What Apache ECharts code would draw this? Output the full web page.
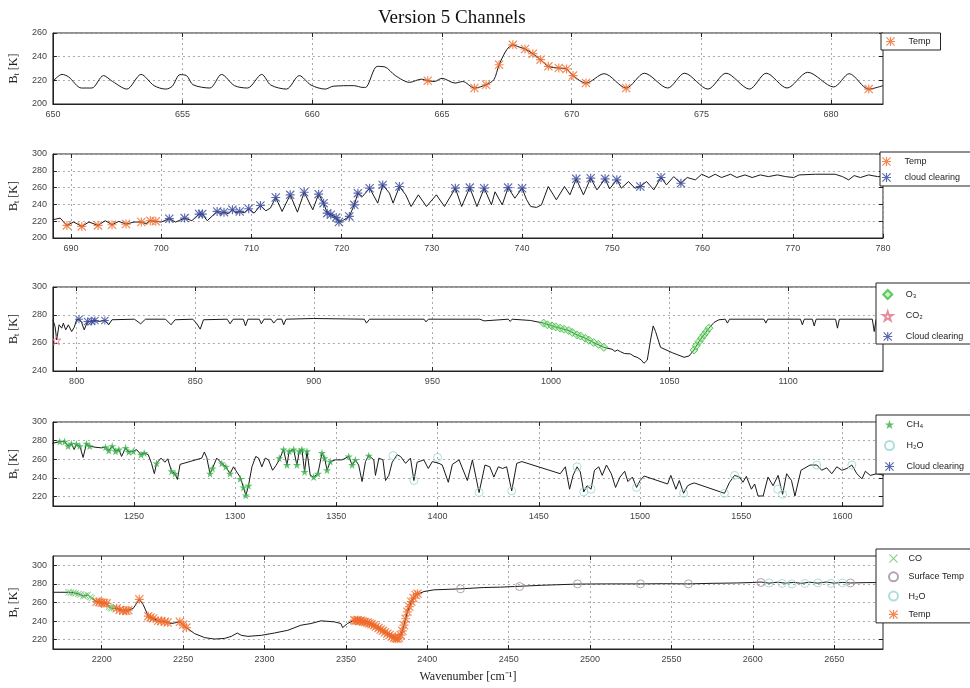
<!DOCTYPE html>
<html>
<head>
<meta charset="utf-8">
<title>Version 5 Channels</title>
<script src="https://cdn.jsdelivr.net/npm/echarts@6/dist/echarts.min.js"></script>
<style>html,body{margin:0;padding:0;background:#fff;}</style>
</head>
<body>
<div id="main" style="width:970px;height:688px;"></div>
<script type="text/javascript">
// ---- data: [wavenumber, Bt] ----
// panel 1 (650-682)
var p1Line = [[650.0,219.2],[650.35,225],[650.6,223],[651.1,213.5],[651.5,213.5],[651.95,224],[652.3,219],[652.85,212.6],[653.4,225],[653.9,215.5],[654.35,212.6],[654.6,215],[654.9,224.8],[655.15,224],[655.4,216.3],[656.05,213.5],[656.5,225],[657.0,215.5],[657.5,213.5],[658.05,225],[658.4,216],[659.0,212.6],[659.5,224],[659.95,216],[660.5,212.6],[660.8,215],[661.6,215.5],[661.95,214],[662.05,214],[662.5,231.8],[662.8,231.3],[663.2,224],[663.75,218.3],[664.2,221],[664.45,219.7],[664.7,219],[665.0,221.7],[665.5,217.7],[665.8,219],[666.25,213.5],[666.7,216.3],[667.0,220.6],[667.2,233.2],[667.5,246],[667.73,250],[667.9,248.7],[668.2,246.5],[668.5,242.5],[668.8,237.5],[669.1,231.8],[669.5,230.4],[669.8,229.6],[670.05,224],[670.55,217.7],[671.25,225.6],[672.1,213.5],[672.8,226],[673.7,213.5],[674.35,226],[675.25,212.6],[675.95,226],[676.85,212.6],[677.5,226],[678.3,213.5],[679.1,226.8],[680.1,214.4],[680.7,225.6],[681.45,212.6],[682.0,215.5]];
var p1Temp = [[664.45,219.7],[666.25,213.5],[666.7,216.3],[667.2,233.2],[667.73,250],[668.2,246.5],[668.5,242.5],[668.8,237.5],[669.1,231.8],[669.5,230.4],[669.8,229.6],[670.05,224],[670.55,217.7],[672.1,213.5],[681.45,212.6]];

// panel 2 (688-780)
var p2Line = [[688.0,221.7],[688.8,223.7],[689.55,215],[690.3,219],[691.2,213.8],[692.0,219],[693.0,215],[693.8,220.6],[694.55,215.8],[695.3,219.8],[696.1,216.6],[697.0,219],[697.8,219],[698.3,217],[698.8,220.6],[699.4,219.8],[700.0,219],[700.9,223],[701.6,219],[702.6,223.7],[703.4,220.6],[704.2,228.5],[704.55,228.5],[705.1,220.6],[706.2,231.6],[706.6,229],[706.96,230.8],[707.4,229],[707.9,233.6],[708.3,230],[708.7,231.6],[709.2,230],[709.7,234.8],[710.3,229.6],[711.0,238.7],[711.6,232.4],[712.1,235.6],[712.7,248.2],[713.4,231.6],[714.3,251.4],[715.1,230.8],[715.85,254.5],[716.8,233.6],[717.45,252.2],[718.0,241.5],[718.4,229.6],[718.8,227.7],[719.4,224.5],[719.7,219],[720.1,220.6],[720.85,225.7],[721.4,239.5],[721.8,253.4],[722.3,249.4],[723.1,259.3],[724.0,241.5],[724.55,263.2],[725.3,253.4],[725.7,241.5],[726.4,261.3],[727.1,251.4],[727.7,237.5],[728.5,251.4],[729.4,237.5],[730.5,251.4],[731.4,237.5],[732.6,259.3],[733.3,237.5],[734.2,260],[735.0,237.5],[735.8,259.3],[736.6,239.5],[737.0,255],[737.8,239.5],[738.45,260],[739.2,247.4],[740.0,259.3],[740.5,245.5],[740.96,237.5],[741.6,236.4],[742.15,239.5],[742.9,261.3],[743.8,245.5],[744.7,261.3],[745.3,251.4],[746.0,270.4],[746.8,251.4],[747.6,271.2],[748.3,257.3],[749.2,270.4],[749.7,258.5],[750.5,269.2],[751.0,259.3],[751.8,267.2],[752.5,259.3],[753.1,261.3],[753.8,267.2],[754.6,257.3],[755.4,272],[756.0,263.2],[756.8,273.1],[757.6,265.2],[758.3,272],[759.2,269.2],[759.9,275.9],[760.7,272],[761.4,275.9],[762.1,272],[763.1,275.9],[763.8,272],[764.7,275.1],[765.5,272],[766.4,275.1],[767.3,273.1],[768.3,275.1],[769.2,273.1],[770.1,272],[770.7,275.1],[772.5,275.9],[774.7,275.9],[775.5,273.1],[776.2,269.2],[776.8,274.3],[777.5,272],[778.4,275.1],[779.4,273.1],[780,273.1]];
var p2Temp = [[689.55,215],[691.2,213.8],[693.0,215],[694.55,215.8],[696.1,216.6],[697.8,219],[698.8,220.6],[699.4,219.8]];
var p2Cloud = [[700.9,223],[702.6,223.7],[704.2,228.5],[704.55,228.5],[706.2,231.6],[706.96,230.8],[707.9,233.6],[708.7,231.6],[709.7,234.8],[711.0,238.7],[712.7,248.2],[714.3,251.4],[715.85,254.5],[717.45,252.2],[718.0,241.5],[718.4,229.6],[718.8,227.7],[719.4,224.5],[719.7,219],[720.85,225.7],[721.4,239.5],[721.8,253.4],[723.1,259.3],[724.55,263.2],[726.4,261.3],[732.6,259.3],[734.2,260],[735.8,259.3],[738.45,260],[740.0,259.3],[746.0,270.4],[747.6,271.2],[749.2,270.4],[750.5,269.2],[753.1,261.3],[755.4,272],[757.6,265.2]];

// panel 3 (790-1140)
var p3Line = [[790,276.6],[790.9,271.8],[791.6,262.2],[792.6,273],[793.7,270.6],[794.4,274.2],[795.4,269.4],[796.5,273],[797.9,268.2],[799.0,271.3],[800.0,276.6],[801,277],[802.1,274.6],[803.2,269.4],[804.6,275.4],[806.3,275.4],[807.7,276.1],[809.4,275.4],[811.9,276.1],[813.5,273],[814.9,276.6],[824.4,277],[827,273.7],[829,277],[837.5,277],[839.8,273],[841.5,276.6],[849,277],[850.7,273.7],[852.1,269.9],[853.5,276.6],[863.5,277],[864.7,273.7],[866,277],[870.3,277],[871.2,272.2],[872.2,277],[877,277],[877.9,273.7],[879,277],[882,277],[883.1,274.2],[884.5,277],[886.5,277],[887.3,273],[888.3,277],[900,277.5],[921.3,277],[922.2,274.2],[923.5,277],[946.5,277],[947.3,275.1],[948.3,277],[970,277],[971.8,275.8],[972.5,277],[982,277],[982.8,275.4],[983.6,277],[991.3,276.1],[996.9,274.2],[1000.4,272.2],[1003.9,270.6],[1007.5,268.9],[1011,265.8],[1014.5,263.4],[1018,260.3],[1022.3,256.9],[1025.8,255.5],[1027,254],[1028,255],[1029.3,253.8],[1031,252.5],[1033.5,252.2],[1035,250.5],[1036.3,249.8],[1038,248],[1039.2,245.5],[1040.6,247.8],[1042,262.2],[1043.1,272.2],[1044.1,268.2],[1046.2,256.9],[1051.1,253.1],[1056.1,249.8],[1058.2,250.7],[1060.3,255],[1062.4,261],[1064.5,265.8],[1066.6,270.6],[1068.7,274.6],[1070.8,276.6],[1073.5,277],[1074.4,274.2],[1075.3,277],[1089.8,277],[1090.6,274.2],[1091.4,277],[1105.2,277],[1106,273],[1106.8,277],[1110.2,277],[1111,272.2],[1111.8,277],[1120,277],[1120.8,270.6],[1121.6,277],[1135.5,277],[1136.3,268.2],[1137.1,277],[1140,277]];
var p3O3 = [[996.9,274.2],[998.5,273],[1000.4,272.2],[1002,271.5],[1003.9,270.6],[1005.5,269.8],[1007.5,268.9],[1009,267.5],[1011,265.8],[1012.5,265],[1014.5,263.4],[1016,262],[1018,260.3],[1020,259],[1022.3,256.9],[1060.3,255],[1061.3,258],[1062.4,261],[1063.5,263.5],[1064.5,265.8],[1065.5,268],[1066.6,270.6]];
var p3CO2 = [[791.5,262]];
var p3Cloud = [[801,277],[804.6,275.4],[806.3,275.4],[807.7,276.1],[811.9,276.1]];

// panel 4 (1210-1620)
var p4Line = [[1209.7,277.1],[1213.4,279],[1215.8,279],[1217.5,274.2],[1219.1,276.8],[1220.5,270.5],[1221.6,276],[1223.3,274.2],[1224.9,262],[1226.6,276.8],[1228.2,274.2],[1230.7,273],[1234,272.3],[1236,273],[1237.6,269.4],[1239.3,274.2],[1240.9,268.6],[1242.6,270.5],[1243.9,263.1],[1245.9,272.3],[1247.5,267.9],[1249.7,268.6],[1251.3,270.5],[1253.5,265],[1255.1,266.8],[1257.1,265],[1258.7,255.7],[1260.1,244.6],[1261.2,255.7],[1263.4,261.3],[1265.3,256.9],[1266.7,260.6],[1268.6,247.2],[1270.3,244.6],[1271.5,238.4],[1272.8,254.6],[1283.5,261.3],[1284.8,267.9],[1286,261.7],[1287.6,244.6],[1288.8,250.2],[1290.9,261.3],[1293.4,255.7],[1295.4,252],[1297.5,244.6],[1299.2,252],[1300.8,246.5],[1302.5,241],[1304.1,229.9],[1305.3,221.4],[1306.6,231.7],[1308.3,252],[1310.2,263.1],[1311.6,261.3],[1313.2,252],[1314.9,261.3],[1316.5,259.4],[1318.5,248.3],[1320.1,253.1],[1321.8,259.4],[1323.9,270.5],[1325.6,253.9],[1326.7,268.6],[1328.9,270.5],[1330.5,253.9],[1331.7,268.6],[1333,270.5],[1334.3,246.5],[1335.5,268.6],[1337.1,242.8],[1338.8,241],[1340.9,244.6],[1342.9,266.8],[1344.2,261.3],[1345.4,248.3],[1347,257.6],[1349.5,259.4],[1352.8,259.4],[1356.1,263.1],[1357.8,253.9],[1359.4,259.4],[1361,253.9],[1362.7,236.2],[1364.4,257.6],[1366,264.2],[1368.5,259.4],[1369.3,242.8],[1371,261.3],[1373,259.4],[1374.3,237.3],[1375.9,242.8],[1377.6,256.9],[1380,264.9],[1381.7,263.1],[1384.2,255.7],[1386.6,261.3],[1388.3,237.3],[1389.9,256.9],[1393.2,259.4],[1395.4,250.2],[1397.4,257.6],[1400.7,255.7],[1402.3,253.9],[1405.3,235.4],[1407.3,254.6],[1410.6,259.4],[1414.7,237.3],[1417.2,259.4],[1420.5,224.4],[1423.4,253.9],[1425.8,252],[1427.8,241],[1430,252],[1432.1,250.2],[1434.1,252],[1436.6,226.2],[1439.1,255.7],[1441.6,257.6],[1460.6,244.6],[1463.1,252],[1465.2,228],[1466.9,242.8],[1468.9,252],[1470.5,246.5],[1472.2,225.1],[1473.8,231.7],[1475.8,228],[1477.5,248.3],[1479.6,252],[1481.3,242.8],[1483.4,253.9],[1485.8,244.6],[1487.9,229.9],[1490.1,241],[1492.4,247.2],[1494,236.2],[1496.2,241],[1498.3,229.9],[1500,237.3],[1502,242.1],[1513.6,233.6],[1515.2,242.8],[1517.7,228],[1519.4,237.3],[1521.5,223.6],[1523.5,231.7],[1525.2,233.6],[1526.8,234.7],[1541.7,223.6],[1544.2,235.4],[1546.7,242.8],[1549.2,241],[1550.8,235.4],[1552.5,241.7],[1555,228],[1556.6,233.6],[1558.3,220.7],[1560.8,220.7],[1563.2,241],[1565.7,231.7],[1568.2,242.8],[1570.4,222.5],[1572.4,244.6],[1574.8,237.3],[1576.5,220.7],[1579.5,248.3],[1584,253.9],[1587.3,253.9],[1589.7,248.3],[1592.2,250.9],[1594.7,244.6],[1597.2,252],[1599.7,248.3],[1602.2,250.2],[1604.6,253.9],[1607.1,244.6],[1609.6,239.1],[1611.3,247.2],[1613.7,242.8],[1617,244.6],[1620.5,242.8]];
var p4CH4 = [[1213.4,279],[1215.8,279],[1217.5,274.2],[1219.1,276.8],[1221.6,276.4],[1223.3,274.2],[1226.6,276.8],[1228.2,274.2],[1236,273],[1237.6,269.4],[1239.3,274.2],[1240.9,268.6],[1242.6,270.5],[1245.9,272.3],[1247.5,267.9],[1249.7,268.6],[1253.5,265],[1255.1,266.8],[1261.2,255.7],[1268.6,247.2],[1270.3,244.6],[1287.6,244.6],[1288.8,250.2],[1293.4,255.7],[1295.4,252],[1297.5,244.6],[1302.5,239.1],[1304.1,229.9],[1305.3,221.4],[1306.6,231.7],[1321.8,261.3],[1323.9,270.5],[1325.6,254],[1326.7,268.6],[1328.9,270.5],[1330.5,254],[1331.7,268.6],[1333,270.5],[1334.3,246.5],[1335.5,268.6],[1338.8,241],[1340.9,244.6],[1342.9,266.8],[1344.2,261.3],[1345.4,248.3],[1347,257.6],[1356.1,263.1],[1357.8,254],[1359.4,259.4],[1366,263.8]];
var p4H2O = [[1378,264],[1388.3,237.3],[1400,262],[1420.5,224.4],[1436.6,226.2],[1468.9,252],[1472.2,225.1],[1475.8,228],[1498.3,229.9],[1521.5,223.6],[1541.7,223.6],[1546.7,242.8],[1568,228],[1570.4,222.5],[1587.3,253.9],[1604.6,253.9]];

// panel 5 (2170-2680)
var p5Line = [[2170,271],[2179.6,271],[2182.7,270.6],[2185.7,269.2],[2188.8,267],[2191.4,268.1],[2193.9,264.5],[2196.9,260.9],[2200,259.8],[2203,259.1],[2204.5,255.5],[2206.1,253.7],[2209.2,253.7],[2213.3,251.1],[2216.3,251.8],[2219.4,253.7],[2221.4,259.1],[2223.1,263.4],[2225.5,257.6],[2228.6,245.3],[2231.6,242.8],[2234.7,240.3],[2238.8,239.2],[2242.9,237.4],[2248,239.2],[2252,233],[2257.1,226.5],[2263.3,222.2],[2269.4,220.7],[2275.5,221.4],[2279.6,223.6],[2283.3,227.2],[2285.7,224.7],[2289.8,223.6],[2298,224.7],[2306.1,227.2],[2314.3,230.1],[2322.4,235.6],[2328.6,237.4],[2334.7,240.3],[2342.9,239.2],[2346.9,237.4],[2348,233],[2351,237.4],[2355.1,241],[2359.2,241],[2363.3,239.2],[2367.3,235.6],[2371.4,230.9],[2375.5,226.5],[2379.6,222.2],[2381.6,221.1],[2383.7,224.7],[2385.7,235.6],[2387.8,250],[2390.2,260.9],[2392.9,268.1],[2398,271.8],[2404.1,273.6],[2420.4,274.7],[2434.7,276.1],[2444.9,276.5],[2453.7,277.2],[2470,278.5],[2492,279.8],[2510,280],[2531,280],[2545,280.2],[2560,280],[2575,280.6],[2590,281],[2600,281.5],[2605,282],[2610,280.8],[2615,281.8],[2620,280.8],[2625,281.6],[2630,280.6],[2635,281.8],[2640,280.8],[2645,282],[2650,280.8],[2655,281.6],[2660,281],[2670,281.4],[2680,281.5]];
var p5CO = [[2179.6,271],[2181,270.5],[2182.7,270.6],[2184,270],[2185.7,269.2],[2187,268.5],[2188.8,267],[2190,267.5],[2191.4,268.1],[2193,266],[2193.9,264.5],[2204.5,255.5],[2205.5,254.5],[2206.1,253.7],[2207.5,254]];
var p5Temp = [[2196.9,260.9],[2198.5,260.5],[2200,259.8],[2201.5,259.5],[2203,259.1],[2209.2,253.7],[2211,252],[2213.3,251.1],[2215,251],[2216.3,251.8],[2223.1,263.4],[2228.6,245.3],[2230,244],[2231.6,242.8],[2234.7,240.3],[2236.5,240],[2238.8,239.2],[2240.5,238.5],[2248,239.2],[2250,236],[2252,233],[2355.1,241],[2356,240.5],[2357.2,240.8],[2358.5,240.2],[2359.2,240.5],[2360.5,239.5],[2361.8,239],[2363.3,238.5],[2364.5,237.5],[2365.8,236.5],[2367.3,235.5],[2368.5,234],[2370,232.5],[2371.4,230.9],[2372.7,229.5],[2374,228],[2375.5,226.5],[2376.8,225],[2378.2,223.5],[2379.6,222.2],[2380.6,221.5],[2381.6,221.1],[2382.6,222],[2383.7,225],[2384.7,229.5],[2385.7,235.6],[2386.7,242.5],[2387.8,250],[2389,255.5],[2390.2,260.9],[2391.5,264.8],[2392.9,268.1],[2394,269.5]];
var p5Surf = [[2420.4,274.7],[2456.7,277.2],[2492.3,280],[2531,280],[2560.4,280],[2605,281.5],[2660,281]];
var p5H2O = [[2610,281],[2618,280.5],[2624,280],[2632,280.5],[2640,281],[2648,280.5],[2655,281]];

// axis ranges and tick labels
var xRanges = [[650,682],[688,780],[790,1140],[1210,1620],[2170,2680]];
var yRanges = [[200,260],[200,300],[240,300],[210,300],[210,310]];
var xTicks = [
    [650,655,660,665,670,675,680],
    [690,700,710,720,730,740,750,760,770,780],
    [800,850,900,950,1000,1050,1100],
    [1250,1300,1350,1400,1450,1500,1550,1600],
    [2200,2250,2300,2350,2400,2450,2500,2550,2600,2650]
];
var yTicks = [
    [200,220,240,260],
    [200,220,240,260,280,300],
    [240,260,280,300],
    [220,240,260,280,300],
    [220,240,260,280,300]
];

// ---- layout ----
var panelTop = [33, 154, 287, 422, 556];
var panelH = [71, 84, 84, 84, 93];

var STAR = 'path://M10,0L12.25,6.91L19.51,6.91L13.63,11.18L15.88,18.09L10,13.82L4.12,18.09L6.37,11.18L0.49,6.91L7.75,6.91Z';
var ASTER = 'path://M8.7,0L11.3,0L11.3,20L8.7,20Z M0,8.7L20,8.7L20,11.3L0,11.3Z M1.8,0L20,18.2L18.2,20L0,1.8Z M18.2,0L20,1.8L1.8,20L0,18.2Z';
var CROSS = 'path://M1.8,0L20,18.2L18.2,20L0,1.8Z M18.2,0L20,1.8L1.8,20L0,18.2Z';
var DIAMOND = 'path://M10,0L20,10L10,20L0,10Z';

var tickFont = 'Liberation Sans';
function plain(v) { return String(v); }

var grid = [], xAxis = [], yAxis = [];
for (var i = 0; i < 5; i++) {
    grid.push({left: 51, width: 832, top: panelTop[i], height: panelH[i],
        show: true, borderColor: '#222', borderWidth: 1, backgroundColor: '#fff'});
    // bottom x axis with labels + grid lines
    xAxis.push({
        type: 'value', gridIndex: i, min: xRanges[i][0], max: xRanges[i][1], position: 'bottom',
        axisLine: {show: true, onZero: false, lineStyle: {color: '#222'}},
        axisTick: {inside: true, length: 4, customValues: xTicks[i], lineStyle: {color: '#222'}},
        axisLabel: {customValues: xTicks[i], formatter: plain, fontSize: 9, color: '#444', margin: 6, fontFamily: tickFont},
        splitLine: {show: true, lineStyle: {color: '#aaa', type: [2, 3], width: 1}},
        name: i === 4 ? 'Wavenumber [cm⁻¹]' : '',
        nameLocation: 'middle', nameGap: 22,
        nameTextStyle: {fontFamily: 'Liberation Serif', fontSize: 12, color: '#222'}
    });
    // top x axis: ticks only
    xAxis.push({
        type: 'value', gridIndex: i, min: xRanges[i][0], max: xRanges[i][1], position: 'top',
        axisLine: {show: false},
        axisTick: {inside: true, length: 4, customValues: xTicks[i], lineStyle: {color: '#222'}},
        axisLabel: {show: false}, splitLine: {show: false}
    });
    yAxis.push({
        type: 'value', gridIndex: i, min: yRanges[i][0], max: yRanges[i][1], position: 'left',
        axisLine: {show: true, onZero: false, lineStyle: {color: '#222'}},
        axisTick: {inside: true, length: 4, customValues: yTicks[i], lineStyle: {color: '#222'}},
        axisLabel: {customValues: yTicks[i], formatter: plain, fontSize: 9, color: '#444', margin: 6, fontFamily: tickFont},
        splitLine: {show: true, lineStyle: {color: '#aaa', type: [2, 3], width: 1}},
        name: 'B{s|t} [K]', nameLocation: 'middle', nameGap: 26, nameRotate: 90,
        nameTextStyle: {fontFamily: 'Liberation Serif', fontSize: 12, color: '#222',
            rich: {s: {fontFamily: 'Liberation Serif', fontSize: 8, color: '#222', padding: [6, 0, 0, 0]}}}
    });
    yAxis.push({
        type: 'value', gridIndex: i, min: yRanges[i][0], max: yRanges[i][1], position: 'right',
        axisLine: {show: false},
        axisTick: {inside: true, length: 4, customValues: yTicks[i], lineStyle: {color: '#222'}},
        axisLabel: {show: false}, splitLine: {show: false}
    });
}

function lineS(i, data, smooth) {
    return {type: 'line', xAxisIndex: 2 * i, yAxisIndex: 2 * i, data: data, symbol: 'none',
        showSymbol: false, silent: true, z: 2, animation: false, smooth: smooth || false,
        lineStyle: {color: '#1a1a1a', width: 1}};
}
function markS(i, name, data, symbol, size, style) {
    return {type: 'scatter', name: name, xAxisIndex: 2 * i, yAxisIndex: 2 * i, data: data,
        symbol: symbol, symbolSize: size, z: 3, animation: false, itemStyle: style};
}

var orange = {color: '#f06a2a', borderWidth: 0};
var blue = {color: '#34469a', borderWidth: 0};
var green = {color: '#37b04a', borderWidth: 0};
var o3 = {color: 'rgba(130,225,130,0.55)', borderColor: '#3dbb3d', borderWidth: 1};
var co2 = {color: 'rgba(0,0,0,0)', borderColor: '#e07088', borderWidth: 1};
var h2o = {color: 'rgba(0,0,0,0)', borderColor: '#98d6d2', borderWidth: 1};
var surf = {color: 'rgba(0,0,0,0)', borderColor: '#a08c9c', borderWidth: 1};
var coSt = {color: '#6cc46c', borderWidth: 0};

var series = [
    lineS(0, p1Line, 0.3),
    markS(0, 'Temp', p1Temp, ASTER, 9, orange),
    lineS(1, p2Line),
    markS(1, 'Temp', p2Temp, ASTER, 9, orange),
    markS(1, 'cloud clearing', p2Cloud, ASTER, 9, blue),
    lineS(2, p3Line),
    markS(2, 'O₃', p3O3, DIAMOND, 8, o3),
    markS(2, 'CO₂', p3CO2, STAR, 9, co2),
    markS(2, 'Cloud clearing', p3Cloud, ASTER, 8, blue),
    lineS(3, p4Line),
    markS(3, 'CH₄', p4CH4, STAR, 8, green),
    markS(3, 'H₂O', p4H2O, 'circle', 8, h2o),
    lineS(4, p5Line),
    markS(4, 'CO', p5CO, CROSS, 7, coSt),
    markS(4, 'Temp', p5Temp, ASTER, 9, orange),
    markS(4, 'Surface Temp', p5Surf, 'circle', 8, surf),
    markS(4, 'H₂O', p5H2O, 'circle', 8, h2o)
];

function legendBox(names, left, top, padding, itemWidth, gap) {
    return {data: names, left: left, top: top, orient: 'vertical', padding: padding,
        itemWidth: itemWidth, itemHeight: 9, itemGap: gap, selectedMode: false,
        backgroundColor: '#fff', borderColor: '#222', borderWidth: 1, borderRadius: 0,
        textStyle: {fontSize: 9, color: '#222', fontFamily: tickFont}};
}

var myChart = echarts.init(document.getElementById('main'));
var option = {
    backgroundColor: '#fff',
    animation: false,
    title: {text: 'Version 5 Channels', left: 373, top: 4,
        textStyle: {fontFamily: 'Liberation Serif', fontSize: 19, fontWeight: 'normal', color: '#111'}},
    legend: [
        legendBox(['Temp'], 881, 33, [4, 10, 4, 5], 26, 8),
        legendBox(['Temp', 'cloud clearing'], 880, 152, [5, 40, 4, 2], 26, 7),
        legendBox(['O₃', 'CO₂', 'Cloud clearing'], 876, 283, [6, 40, 3, 6], 26, 10.5),
        legendBox(['CH₄', 'H₂O', 'Cloud clearing'], 876, 415, [5, 40, 3, 8], 24, 11),
        legendBox(['CO', 'Surface Temp', 'H₂O', 'Temp'], 876, 549, [5, 40, 4, 12], 20, 8.3)
    ],
    grid: grid,
    xAxis: xAxis,
    yAxis: yAxis,
    series: series
};
myChart.setOption(option);
</script>
</body>
</html>
